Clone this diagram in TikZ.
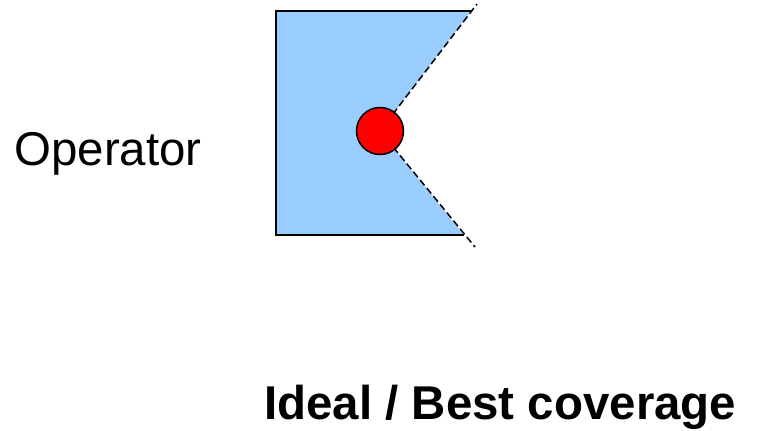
\documentclass[tikz,border=0pt]{standalone}
\usepackage{fontspec}
\setmainfont{Liberation Sans}
\definecolor{coverblue}{RGB}{153, 204, 255}
\definecolor{opred}{RGB}{255, 0, 0}

\begin{document}
\begin{tikzpicture}[x=0.02cm, y=-0.02cm,
    label/.style={inner sep=0pt, anchor=base west, font=\fontsize{27}{32}\selectfont},
    edge/.style={line width=0.85pt},
    sight/.style={line width=0.85pt, dash pattern=on 4pt off 2pt}]
  \useasboundingbox (0, 0) rectangle (757, 430);

  % covered area
  \coordinate (apex) at (380, 131);
  \coordinate (tl) at (276, 11);
  \coordinate (tr) at (471, 11);
  \coordinate (br) at (464, 235);
  \coordinate (bl) at (276, 235);
  \fill[coverblue] (tl) -- (tr) -- (apex) -- (br) -- (bl) -- cycle;
  \draw[edge] (tr) -- (tl) -- (bl) -- (br);

  % field of view
  \coordinate (top end) at (477, 4);
  \coordinate (bot end) at (475, 247);
  \draw[sight] (apex) -- (top end);
  \draw[sight] (apex) -- (bot end);

  \node[circle, draw, edge, fill=opred, minimum size=0.94cm, inner sep=0pt] (dot) at (apex) {};

  \node[label] (op) at (14, 165) {Operator};
  \node[label, font=\fontsize{27}{32}\selectfont\bfseries] (title) at (264, 419) {Ideal / Best coverage};
\end{tikzpicture}
\end{document}
